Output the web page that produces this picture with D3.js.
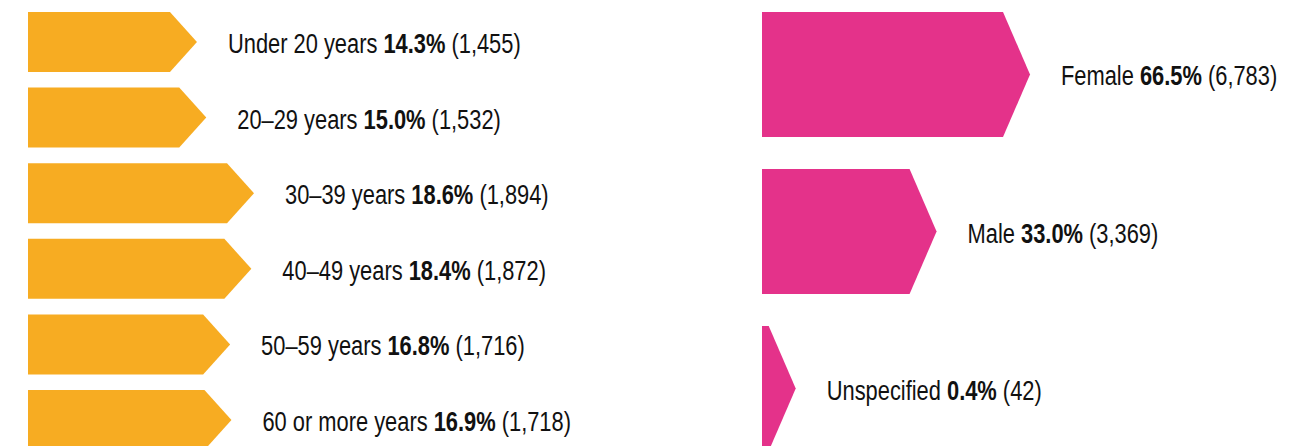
<!DOCTYPE html>
<html>
<head>
<meta charset="utf-8">
<script src="https://cdn.jsdelivr.net/npm/d3@7"></script>
<style>
  html, body { margin: 0; padding: 0; background: #fff; }
  svg text { font-family: "Liberation Sans", Arial, sans-serif; }
</style>
</head>
<body>
<div id="canvas"></div>
<script>
"use strict";

// age groups (left, orange)
let ageGroups = ["Under 20 years", "20\u201329 years", "30\u201339 years", "40\u201349 years", "50\u201359 years", "60 or more years"];
let agePct = [14.3, 15.0, 18.6, 18.4, 16.8, 16.9];
let ageCount = ["1,455", "1,532", "1,894", "1,872", "1,716", "1,718"];

// gender (right, pink)
let genders = ["Female", "Male", "Unspecified"];
let genderPct = [66.5, 33.0, 0.4];
let genderCount = ["6,783", "3,369", "42"];

let width = 1316;
let height = 446;
let tip = 27;       // depth of the arrow point
let textGap = 31;
let squeeze = 0.81; // fake a condensed face

let svg = d3.select("#canvas")
  .append("svg")
  .attr("width", width)
  .attr("height", height);

function arrowPath(x0, len, y0, h) {
  let p = d3.path();
  p.moveTo(x0, y0);
  p.lineTo(x0 + len, y0);
  p.lineTo(x0 + len + tip, y0 + h / 2);
  p.lineTo(x0 + len, y0 + h);
  p.lineTo(x0, y0 + h);
  p.closePath();
  return p.toString();
}

function drawGroup(cats, pct, counts, x0, yScale, lenScale, color) {
  let rows = cats.map((c, i) => ({ cat: c, pct: pct[i], count: counts[i] }));
  let g = svg.append("g");

  g.selectAll("path")
    .data(rows)
    .enter()
    .append("path")
    .attr("d", d => arrowPath(x0, lenScale(d.pct), yScale(d.cat), yScale.bandwidth()))
    .attr("fill", color);

  let t = g.selectAll("text")
    .data(rows)
    .enter()
    .append("text")
    .attr("transform", d => {
      let x = x0 + lenScale(d.pct) + tip + textGap;
      let y = yScale(d.cat) + yScale.bandwidth() / 2 + 11;
      return `translate(${x},${y}) scale(${squeeze},1)`;
    })
    .style("font-size", "27px")
    .attr("fill", "#111");

  t.append("tspan").text(d => d.cat + " ");
  t.append("tspan").attr("font-weight", "bold").text(d => d.pct.toFixed(1) + "%");
  t.append("tspan").text(d => " (" + d.count + ")");
}

// left: age
let yAge = d3.scaleBand()
  .domain(ageGroups)
  .range([12, 450])
  .paddingInner(0.206);

let lenAge = d3.scaleLinear()
  .domain([3.6, 18.6])
  .range([0, 199]);

drawGroup(ageGroups, agePct, ageCount, 28, yAge, lenAge, "#F7AC22");

// right: gender
let yGender = d3.scaleBand()
  .domain(genders)
  .range([12, 451])
  .paddingInner(0.204);

let lenGender = d3.scalePow()
  .exponent(0.7)
  .domain([0, 66.5])
  .range([0, 241]);

drawGroup(genders, genderPct, genderCount, 762, yGender, lenGender, "#E4328A");
</script>
</body>
</html>
